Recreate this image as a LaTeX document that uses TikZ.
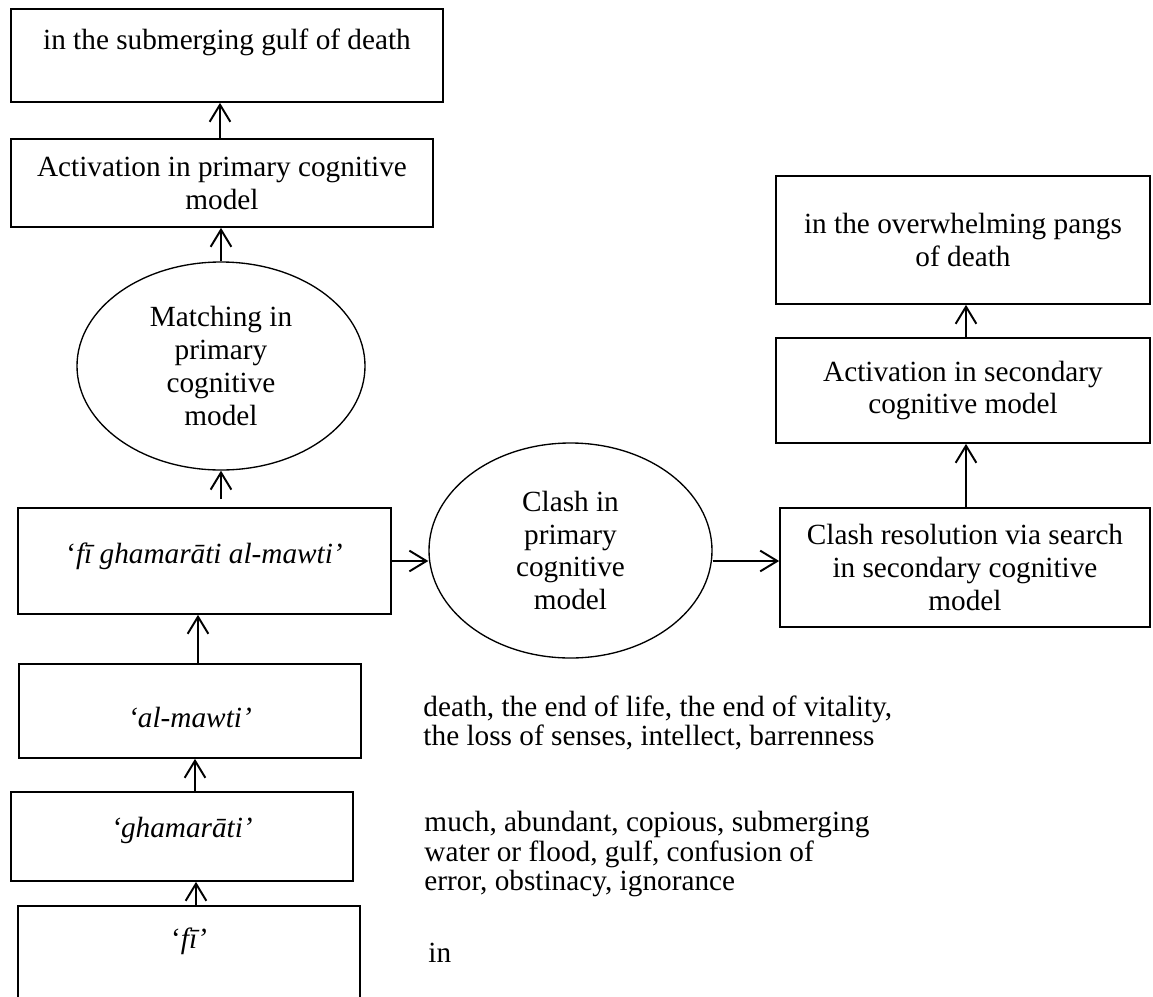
\documentclass[tikz,border=0pt]{standalone}
\usepackage{fontspec}
\setmainfont{Liberation Serif}
\usetikzlibrary{shapes.geometric,arrows.meta}

\newcommand\unitpx{0.41pt}
\tikzset{
  every node/.style={font=\fontsize{12}{13.5}\selectfont},
  box/.style 2 args={draw, line width=0.7pt, inner sep=0pt, align=center,
    minimum width=#1*\unitpx, minimum height=#2*\unitpx},
  oval/.style 2 args={draw, ellipse, line width=0.55pt, inner sep=0pt, align=center,
    minimum width=#1*\unitpx, minimum height=#2*\unitpx},
  gloss/.style={anchor=west, align=left, inner sep=0pt, font=\fontsize{12}{12.2}\selectfont},
  arr/.style={-{Straight Barb[length=7pt,width=8.5pt]}, line width=0.8pt},
}

\begin{document}
\begin{tikzpicture}[x=0.41pt, y=-0.41pt]
        \useasboundingbox (0,0) rectangle (1153,996);

        % 左列
        \node[box={432}{93}] (gulf) at (227,55.5) {in the submerging gulf of death\\ \mbox{}};
        \node[box={422}{88}] (actprim) at (222,183) {Activation in primary cognitive\\ model};
        \node[oval={288}{208}] (matching) at (221,366) {Matching in\\ primary\\ cognitive\\ model};
        \node[box={373}{106}] (phrase) at (204.5,561) {‘\textit{fī ghamarāti al-mawti’}\\[-7pt]\mbox{}};
        \node[box={342}{94}] (mawti) at (190,711) {\mbox{}\\ \textit{‘al-mawti’}};
        \node[box={342}{89}] (ghamarati) at (182,836.5) {\textit{‘ghamarāti’}\\[-5.7pt]\mbox{}};
        \node[box={342}{120}] (fi) at (189,966) {‘\textit{fī’}\\[9.4pt]\mbox{}};

        % 词义
        \node[gloss] (mawtigloss) at (423,723) {death, the end of life, the end of vitality,\\ the loss of senses, intellect, barrenness};
        \node[gloss] (ghamaratigloss) at (424,854) {much, abundant, copious, submerging\\ water or flood, gulf, confusion of\\ error, obstinacy, ignorance};
        \node[gloss] (figloss) at (428,953) {in};

        % 中列与右列
        \node[oval={283}{215}] (clash) at (570.5,550.5) {Clash in\\ primary\\ cognitive\\ model};
        \node[box={370}{119}] (resolve) at (965,567.5) {Clash resolution via search\\ in secondary cognitive\\ model};
        \node[box={374}{105}] (actsec) at (963,390.5) {Activation in secondary\\ cognitive model};
        \node[box={374}{128}] (pangs) at (963,240) {in the overwhelming pangs\\ of death};

        % 箭头
        \draw[arr] (196,0 |- fi.north) -- (196,0 |- ghamarati.south);
        \draw[arr] (195,0 |- ghamarati.north) -- (195,0 |- mawti.south);
        \draw[arr] (198,0 |- mawti.north) -- (198,0 |- phrase.south);
        \draw[arr, shorten <=3.3pt] (matching.south |- phrase.north) -- (matching.south);
        \draw[arr] (matching.north) -- (matching.north |- actprim.south);
        \draw[arr] (220,0 |- actprim.north) -- (220,0 |- gulf.south);
        \draw[arr] (phrase.east) -- (phrase.east -| clash.west);
        \draw[arr] (clash.east |- phrase.east) -- (phrase.east -| resolve.west);
        \draw[arr] (966,0 |- resolve.north) -- (966,0 |- actsec.south);
        \draw[arr] (966,0 |- actsec.north) -- (966,0 |- pangs.south);
    \end{tikzpicture}
\end{document}
